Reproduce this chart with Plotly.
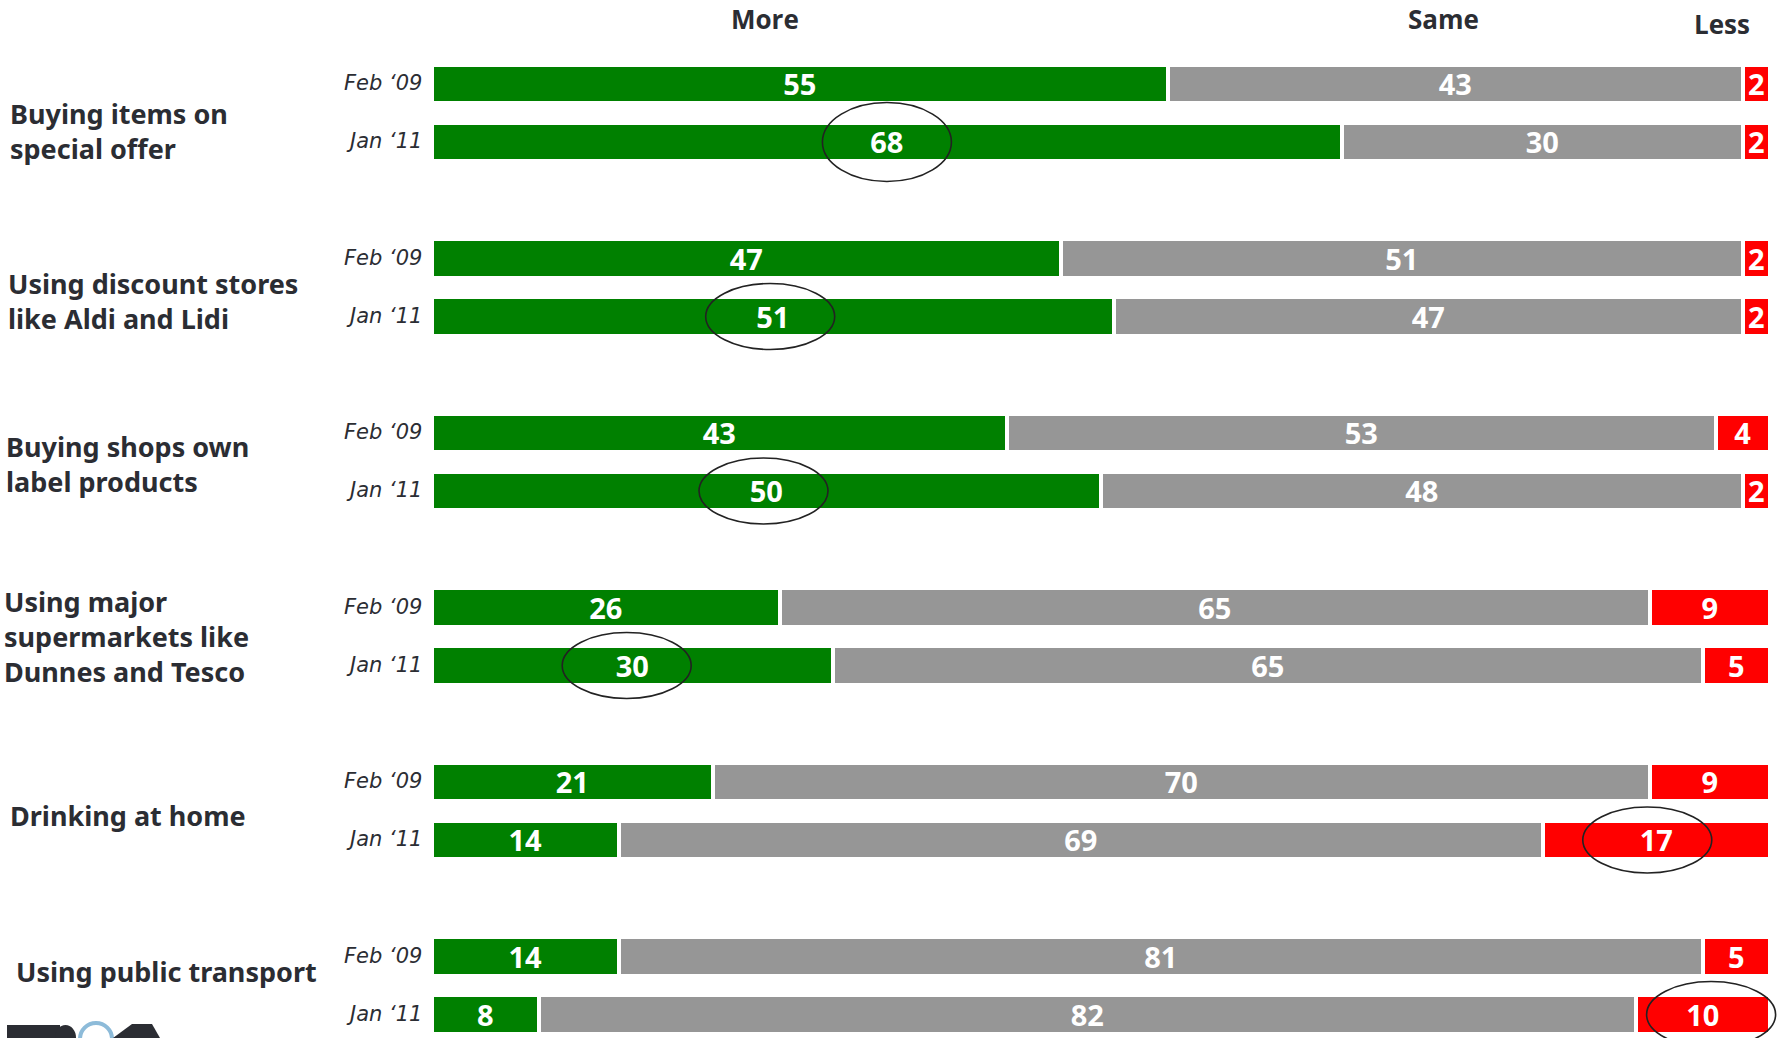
import plotly.graph_objects as go

# ---- data -------------------------------------------------------------
activities = [
    "Buying items on<br>special offer",
    "Using discount stores<br>like Aldi and Lidi",
    "Buying shops own<br>label products",
    "Using major<br>supermarkets like<br>Dunnes and Tesco",
    "Drinking at home",
    "Using public transport",
]
periods = ["Feb \u201809", "Jan \u201811"]
responses = ["More", "Same", "Less"]

more_feb09 = [55, 47, 43, 26, 21, 14]
more_jan11 = [68, 51, 50, 30, 14, 8]
same_feb09 = [43, 51, 53, 65, 70, 81]
same_jan11 = [30, 47, 48, 65, 69, 82]
less_feb09 = [2, 2, 4, 9, 9, 5]
less_jan11 = [2, 2, 2, 5, 17, 10]

# (activity index, period index, response) values ringed for emphasis
ringed = [(0, 1, "More"), (1, 1, "More"), (2, 1, "More"),
          (3, 1, "More"), (4, 1, "Less"), (5, 1, "Less")]

# ---- layout constants (pixels) -----------------------------------------
W, H = 1777, 1038
X0_PX = 432.0          # where 0 % sits
PX_PER_PCT = 13.38     # pixel width of one percentage point
ROW_FIRST = 84.0       # centre of first bar
ROW_GAP = 58.0         # distance Feb -> Jan within a group
GROUP_GAP = 174.5      # distance between activity groups
BAR_H = 34.0
GAP_LINE = 4.5

COL = {"More": "#008000", "Same": "#969696", "Less": "#FF0000"}
TEXT_DARK = "#2B2D33"

series = {
    "More": [more_feb09, more_jan11],
    "Same": [same_feb09, same_jan11],
    "Less": [less_feb09, less_jan11],
}


def row_y(g, p):
    return ROW_FIRST + GROUP_GAP * g + ROW_GAP * p


fig = go.Figure()

n = len(activities)
for resp in responses:
    xs, ys, labels = [], [], []
    for p in range(len(periods)):
        for g in range(n):
            v = series[resp][p][g]
            xs.append(v)
            ys.append(row_y(g, p))
            labels.append(str(v))
    fig.add_trace(go.Bar(
        x=xs, y=ys, orientation="h", name=resp,
        width=BAR_H + GAP_LINE,
        marker=dict(color=COL[resp], line=dict(color="white", width=GAP_LINE)),
        text=labels, textposition="inside", insidetextanchor="middle",
        textangle=0, constraintext="none",
        textfont=dict(family="Noto Sans", size=29, color="white", weight="bold"),
        hoverinfo="skip", showlegend=False,
    ))

# rings around highlighted values
RING_W_PX = 129
ring_heights = [79, 66, 66, 66, 66, 66]
ring_dx_px = [0, -3, -3, -6, -9, 8]
for k, (g, p, resp) in enumerate(ringed):
    start = 0
    for r in responses:
        if r == resp:
            break
        start += series[r][p][g]
    cx = start + series[resp][p][g] / 2 + ring_dx_px[k] / PX_PER_PCT
    cy = row_y(g, p)
    half_w = RING_W_PX / 2 / PX_PER_PCT
    half_h = ring_heights[k] / 2
    fig.add_shape(type="circle", xref="x", yref="y",
                  x0=cx - half_w, x1=cx + half_w,
                  y0=cy - half_h, y1=cy + half_h,
                  line=dict(color="#222222", width=1.6),
                  fillcolor="rgba(0,0,0,0)", layer="above")

annotations = []

# column headers
header_pos = {"More": (765, 19), "Same": (1443, 19), "Less": (1722, 24)}
for resp in responses:
    hx, hy = header_pos[resp]
    annotations.append(dict(
        x=hx / W, xref="paper", y=hy, yref="y", text=resp, showarrow=False,
        xanchor="center", yanchor="middle",
        font=dict(family="Open Sans", size=26, color=TEXT_DARK, weight="bold")))

# period labels
for g in range(n):
    for p in range(len(periods)):
        annotations.append(dict(
            x=424 / W, xref="paper", y=row_y(g, p) - 1, yref="y",
            text=periods[p], showarrow=False, xanchor="right", yanchor="middle",
            font=dict(family="DejaVu Sans", size=21, color=TEXT_DARK, style="italic")))

# activity labels
label_x_px = [8, 6, 4, 2, 8, 14]
label_dy_px = [18, 13, 2, 0, 4, -14]
for g in range(n):
    mid = (row_y(g, 0) + row_y(g, 1)) / 2 + label_dy_px[g]
    annotations.append(dict(
        x=label_x_px[g] / W, xref="paper", y=mid, yref="y",
        text=activities[g], showarrow=False, xanchor="left", yanchor="middle",
        align="left",
        font=dict(family="Noto Sans", size=27, color=TEXT_DARK, weight="bold")))

# partial company logo peeking in at the bottom left corner
def px(xp, yp):
    return xp / W, 1 - yp / H

logo_shapes = []
ax, ay = px(7, 1025)
bx, by = px(60, 1038)
logo_shapes.append(dict(type="rect", xref="paper", yref="paper",
                        x0=ax, x1=bx, y0=by, y1=ay,
                        fillcolor=TEXT_DARK, line=dict(width=0), layer="above"))
cx0, cy0 = px(55, 1025)
cx1, cy1 = px(76, 1050)
logo_shapes.append(dict(type="circle", xref="paper", yref="paper",
                        x0=cx0, x1=cx1, y0=cy1, y1=cy0,
                        fillcolor=TEXT_DARK, line=dict(width=0), layer="above"))
rx0, ry0 = px(80, 1023)
rx1, ry1 = px(112, 1055)
logo_shapes.append(dict(type="circle", xref="paper", yref="paper",
                        x0=rx0, x1=rx1, y0=ry1, y1=ry0,
                        fillcolor="rgba(0,0,0,0)",
                        line=dict(color="#8DBBD9", width=4), layer="above"))
pts = [px(113, 1038), px(132, 1024), px(152, 1024), px(160, 1038)]
path = "M " + " L ".join(f"{a},{b}" for a, b in pts) + " Z"
logo_shapes.append(dict(type="path", xref="paper", yref="paper", path=path,
                        fillcolor=TEXT_DARK, line=dict(width=0), layer="above"))
for s in logo_shapes:
    fig.add_shape(**s)

fig.update_layout(
    width=W, height=H,
    margin=dict(l=0, r=0, t=0, b=0),
    barmode="stack", bargap=0,
    paper_bgcolor="white", plot_bgcolor="white",
    xaxis=dict(range=[-X0_PX / PX_PER_PCT, (W - X0_PX) / PX_PER_PCT],
               visible=False, fixedrange=True),
    yaxis=dict(range=[H, 0], visible=False, fixedrange=True),
    annotations=annotations,
    showlegend=False,
)

fig.write_html("out.html")
